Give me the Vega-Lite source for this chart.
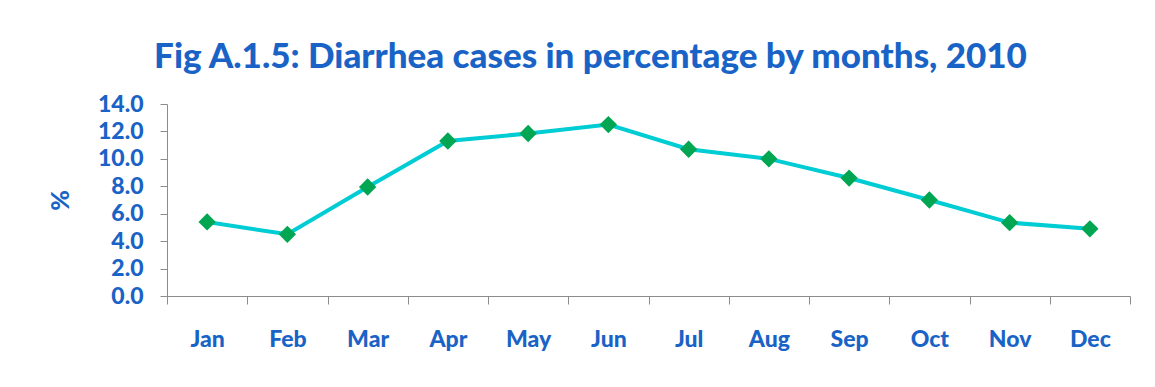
{
  "$schema": "https://vega.github.io/schema/vega-lite/v6.json",
  "width": 963,
  "height": 192,
  "autosize": {"type": "none"},
  "padding": {"left": 167, "top": 104, "right": 25, "bottom": 91},
  "background": "white",
  "title": {
    "text": "Fig A.1.5:  Diarrhea cases in percentage by months, 2010",
    "font": "Lato",
    "fontSize": 35,
    "fontWeight": 900,
    "color": "#1a63c6",
    "anchor": "middle",
    "dx": -58,
    "offset": 18
  },
  "config": {
    "view": {"stroke": null},
    "axis": {
      "labelFont": "Lato",
      "labelFontWeight": 900,
      "labelColor": "#1a63c6",
      "titleFont": "Lato",
      "titleFontWeight": 900,
      "titleColor": "#1a63c6",
      "domainColor": "#8c8c8c",
      "tickColor": "#8c8c8c",
      "grid": false
    }
  },
  "data": {
    "values": [
      {"month": "Jan", "pct": 5.4},
      {"month": "Feb", "pct": 4.5},
      {"month": "Mar", "pct": 7.95},
      {"month": "Apr", "pct": 11.3},
      {"month": "May", "pct": 11.85},
      {"month": "Jun", "pct": 12.5},
      {"month": "Jul", "pct": 10.7},
      {"month": "Aug", "pct": 10.0},
      {"month": "Sep", "pct": 8.6},
      {"month": "Oct", "pct": 7.0},
      {"month": "Nov", "pct": 5.35},
      {"month": "Dec", "pct": 4.9}
    ]
  },
  "encoding": {
    "x": {
      "field": "month",
      "type": "ordinal",
      "sort": ["Jan","Feb","Mar","Apr","May","Jun","Jul","Aug","Sep","Oct","Nov","Dec"],
      "scale": {"type": "band", "paddingInner": 0, "paddingOuter": 0},
      "axis": {
        "title": null,
        "labelAngle": 0,
        "labelFontSize": 23,
        "tickBand": "extent",
        "tickSize": 8,
        "labelPadding": 24
      }
    },
    "y": {
      "field": "pct",
      "type": "quantitative",
      "scale": {"domain": [0, 14], "nice": false, "zero": true},
      "axis": {
        "title": "%",
        "titleFontSize": 25,
        "titlePadding": 24,
        "values": [0, 2, 4, 6, 8, 10, 12, 14],
        "format": ".1f",
        "labelFontSize": 23,
        "tickSize": 7,
        "labelPadding": 17
      }
    }
  },
  "layer": [
    {
      "mark": {"type": "line", "color": "#00ccd4", "strokeWidth": 4}
    },
    {
      "mark": {"type": "point", "shape": "diamond", "filled": true, "color": "#00a651", "opacity": 1, "size": 300}
    }
  ]
}
